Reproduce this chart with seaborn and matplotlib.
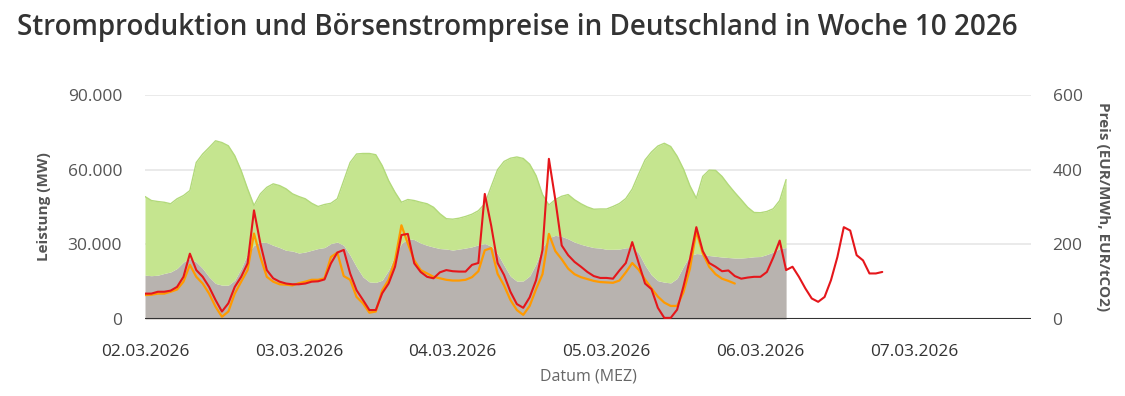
import numpy as np
import pandas as pd
import matplotlib
matplotlib.use("Agg")
import matplotlib.pyplot as plt
import matplotlib.dates as mdates
from matplotlib.ticker import FuncFormatter
import seaborn as sns

# ---------------- data (hourly, from 02.03.2026 00:00 MEZ) ----------------
start = "2026-03-02 00:00"

# top of the green (renewable) stack = total production, MW
gesamt_mw = [
    49200, 47600, 47200, 46900, 46300, 48300, 49600, 51600, 62900, 66300, 68900, 71600,
    70900, 69600, 65600, 59600, 52300, 45600, 50300, 52900, 54300, 53600, 52300, 50300,
    49200, 48300, 46500, 45200, 46000, 46500, 48300, 55600, 62900, 66300, 66500, 66500,
    66000, 61600, 55600, 50900, 46900, 48000, 47600, 46900, 46300, 44900, 42300, 40300,
    40100, 40500, 41200, 42100, 43500, 46300, 53200, 60000, 63300, 64600, 65100, 64500,
    62200, 57600, 50000, 45800, 48000, 49300, 50000, 47900, 46300, 45000, 44100, 44200,
    44200, 45200, 46400, 48400, 52200, 58200, 63900, 67100, 69500, 70600, 69300, 65400,
    60200, 53500, 48500, 57300, 59800, 59700, 57300, 53900, 50800, 47900, 44900, 42800,
    42700, 43200, 44300, 47600, 56000,
]

# grey (non-renewable) production, MW
nicht_erneuerbar_mw = [
    17600, 17400, 17600, 18300, 18900, 20300, 22900, 24300, 22900, 20300, 16900, 14300,
    13600, 13600, 15600, 20300, 26300, 29600, 30900, 30700, 29600, 28700, 27600, 27300,
    26500, 26900, 27600, 28300, 28700, 30300, 30900, 29600, 25600, 20900, 16900, 14900,
    14700, 15600, 19600, 25600, 30300, 32300, 31900, 30500, 29600, 28900, 28300, 28100,
    27700, 28100, 28500, 29000, 29800, 30300, 29300, 26200, 21600, 17200, 15200, 15300,
    17300, 22200, 28700, 32700, 33600, 33200, 32200, 30900, 30000, 29300, 28700, 28500,
    28000, 28000, 28100, 28600, 28800, 26500, 21600, 17700, 15400, 14800, 14500, 16300,
    21200, 25500, 26300, 26100, 25500, 25200, 24900, 24700, 24500, 24500, 24700, 25000,
    25100, 25900, 26900, 28300, 28700,
]

# Day-ahead auction price, EUR/MWh
day_ahead_eur = [
    68, 68, 73, 73, 76, 86, 113, 175, 131, 113, 86, 51,
    20, 42, 86, 113, 149, 291, 202, 131, 109, 100, 95, 93,
    93, 95, 100, 101, 106, 149, 178, 185, 122, 77, 51, 24,
    24, 69, 95, 140, 225, 228, 149, 126, 113, 109, 125, 131,
    128, 127, 127, 145, 150, 335, 250, 150, 118, 73, 40, 30,
    58, 104, 185, 429, 320, 197, 171, 153, 140, 126, 115, 110,
    110, 108, 130, 150, 206, 150, 95, 80, 30, 3, 3, 25,
    88, 160, 246, 182, 150, 140, 128, 130, 115, 108, 111, 113,
    113, 126, 165, 210, 131, 140, 113, 82, 55, 46, 59, 104,
    166, 246, 237, 171, 157, 122, 122, 126,
]

# Intraday price, EUR/MWh
intraday_eur = [
    64, 65, 68, 68, 73, 79, 100, 145, 113, 95, 68, 33,
    6, 20, 68, 100, 131, 229, 166, 113, 100, 93, 92, 90,
    96, 100, 105, 105, 109, 166, 178, 115, 105, 59, 42, 17,
    20, 77, 105, 157, 251, 202, 157, 131, 122, 113, 109, 105,
    103, 103, 105, 112, 128, 184, 190, 121, 90, 51, 24, 11,
    35, 80, 120, 228, 182, 160, 135, 120, 112, 107, 102, 99,
    98, 97, 103, 125, 150, 132, 106, 82, 60, 44, 35, 35,
    72, 135, 235, 176, 140, 120, 108, 102, 95,
]

x_tick_days = ["2026-03-02", "2026-03-03", "2026-03-04", "2026-03-05", "2026-03-06", "2026-03-07"]

# ---------------- frames ----------------
areas = pd.DataFrame({
    "zeit": pd.date_range(start, periods=len(gesamt_mw), freq="h"),
    "gesamt": gesamt_mw,
    "nicht_erneuerbar": nicht_erneuerbar_mw,
})
da = pd.DataFrame({
    "zeit": pd.date_range(start, periods=len(day_ahead_eur), freq="h"),
    "preis": day_ahead_eur,
})
idp = pd.DataFrame({
    "zeit": pd.date_range(start, periods=len(intraday_eur), freq="h"),
    "preis": intraday_eur,
})

# ---------------- style ----------------
sns.set_theme(style="white")
plt.rcParams["font.family"] = ["Open Sans", "DejaVu Sans"]

fig = plt.figure(figsize=(11.25, 3.96), dpi=100)
ax = fig.add_axes([145 / 1125, 1 - 319 / 396, (1031 - 145) / 1125, (319 - 95) / 396])
ax2 = ax.twinx()

green = "#c5e58f"
green_edge = "#b2d97a"
grey = "#b8b3af"
red = "#e5161b"
orange = "#ff9a00"

ax.fill_between(areas["zeit"], 0, areas["nicht_erneuerbar"], color=grey, lw=0, zorder=2)
ax.fill_between(areas["zeit"], areas["nicht_erneuerbar"], areas["gesamt"],
                color=green, lw=0, zorder=2)
ax.plot(areas["zeit"], areas["gesamt"], color=green_edge, lw=1.0, zorder=3)

sns.lineplot(data=idp, x="zeit", y="preis", ax=ax2, color=orange, lw=1.6, zorder=4)
sns.lineplot(data=da, x="zeit", y="preis", ax=ax2, color=red, lw=1.5, zorder=5)

# ---------------- axes ----------------
x0 = pd.Timestamp(start)
x1 = x0 + pd.Timedelta(hours=138.2)
ax.set_xlim(x0, x1)
ax2.set_xlim(x0, x1)
ax.set_ylim(0, 90000)
ax2.set_ylim(0, 600)
ax.set_yticks([0, 30000, 60000, 90000])
ax2.set_yticks([0, 200, 400, 600])
ax.yaxis.set_major_formatter(FuncFormatter(lambda v, p: f"{int(v):,}".replace(",", ".")))

ax.set_xticks(pd.to_datetime(x_tick_days))
ax.xaxis.set_major_formatter(mdates.DateFormatter("%d.%m.%Y"))

ax.grid(axis="y", color="#e6e6e6", lw=1.2, zorder=0)
ax.grid(axis="x", visible=False)
ax2.grid(False)
ax.set_axisbelow(True)

for a in (ax, ax2):
    for s in ("top", "left", "right", "bottom"):
        a.spines[s].set_visible(False)
ax.axhline(0, color="#333333", lw=1.5, zorder=6)

ax.tick_params(axis="y", length=0, pad=16.5, labelsize=12.5, labelcolor="#555555")
ax2.tick_params(axis="y", length=0, pad=15.5, labelsize=12.5, labelcolor="#555555")
ax.tick_params(axis="x", length=0, pad=18, labelsize=12.4, labelcolor="#333333")

ax.set_xlabel("Datum (MEZ)", fontsize=11.5, color="#666666", labelpad=6)
ax.set_ylabel("Leistung (MW)", fontsize=11, color="#555555", fontweight="bold", labelpad=12)
ax2.set_ylabel("Preis (EUR/MWh, EUR/tCO2)", fontsize=11, color="#555555",
               fontweight="bold", rotation=270, labelpad=20)

fig.text(17 / 1125, 1 - 28 / 396, "Stromproduktion und Börsenstrompreise in Deutschland in Woche 10 2026",
         fontsize=20, fontweight="semibold", color="#333333", ha="left", va="center")

fig.savefig("out.png", dpi=100, facecolor="white")
